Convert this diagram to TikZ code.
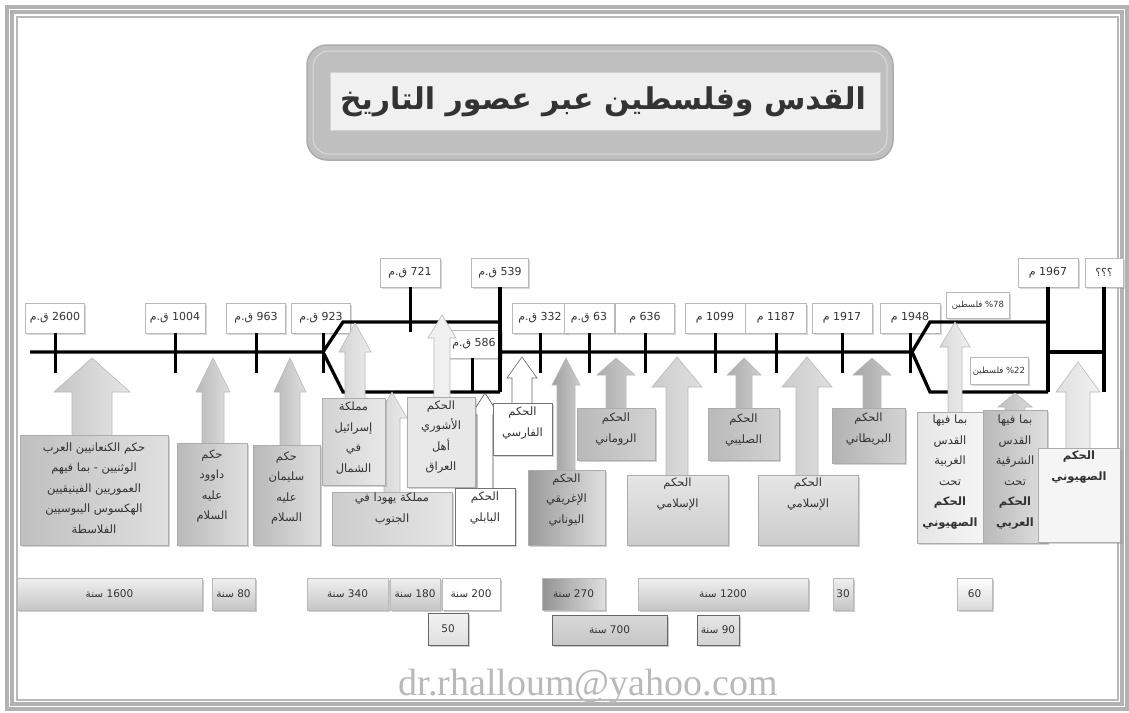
\documentclass[tikz,border=0pt]{standalone}
\usepackage{fontspec}
\setmainfont{DejaVu Sans}
\newfontfamily\arabicfont[Script=Arabic]{DejaVu Sans}
\newfontfamily\wmfont{Liberation Serif}
\TeXXeTstate=1
\usetikzlibrary{shadows}
\newcommand\AR[1]{{\arabicfont\beginR #1\endR}}
% date box: name, centre x, top y, width, bottom y, text
\newcommand\dbox[6]{\node[datebox,minimum width={#4},minimum height={#5-#3}] (#1) at (#2,{(#3+#5)/2}) {#6};}
% info box: name, x1, y1, x2, y2, style, text y, text
\newcommand\bx[8]{\node[ibox,#6,minimum width={#4-#2},minimum height={#5-#3}] (#1) at ({(#2+#4)/2},{(#3+#5)/2}) {};
  \node[itext] (#1t) at ({(#2+#4)/2},#7) {#8};}
% duration bar: name, x1, y1, x2, y2, style, text
\newcommand\durbar[7]{\node[dur,#6,minimum width={#4-#2},minimum height={#5-#3}] (#1) at ({(#2+#4)/2},{(#3+#5)/2}) {#7};}
% block arrow: apex x, apex y, head half width, head base y, shaft half width, bottom y, style
\newcommand\barrow[7]{\path[arr,#7] (#1,#2) -- ({#1+#3},#4) -- ({#1+#5},#4) -- ({#1+#5},#6) -- ({#1-#5},#6) -- ({#1-#5},#4) -- ({#1-#3},#4) -- cycle;}
\begin{document}
\begin{tikzpicture}[x=1pt,y=-1pt,
  datebox/.style={draw=gray!55,fill=white,line width=0.9pt,inner sep=0pt,font=\fontsize{11}{13}\selectfont,text=black!80,drop shadow={opacity=0.3,shadow xshift=1.5pt,shadow yshift=-1.5pt}},
  tl/.style={line width=3.3pt,black,line join=miter},
  tk/.style={line width=3pt,black},
  ibox/.style={draw=gray!65,line width=0.7pt,inner sep=0pt,drop shadow={opacity=0.35,shadow xshift=2pt,shadow yshift=-2pt}},
  itext/.style={align=center,font=\fontsize{11.5}{20.5}\selectfont,text=black!80,inner sep=0pt},
  dur/.style={draw=gray!55,line width=0.6pt,top color=gray!12,bottom color=gray!45,inner sep=0pt,font=\fontsize{10.5}{12}\selectfont,text=black!80,drop shadow={opacity=0.4,shadow xshift=1.5pt,shadow yshift=-1.5pt}},
  arr/.style={draw=gray!55,line width=0.6pt}]
\useasboundingbox (0,0) rectangle (1129,712);
\fill[white] (0,0) rectangle (1129,712);
% frame
\draw[gray!60,line width=9pt] (9,9) rectangle (1124,706);
\draw[white,line width=1pt] (9,9) rectangle (1124,706);
\draw[gray!55,line width=1.2pt] (17,17) rectangle (1118,700);
% title
\node[draw=gray!65,line width=1.5pt,fill=gray!50,rounded corners=20pt,minimum width=586,minimum height=115] (titlebox) at (600,102.5) {};
\node[draw=gray!30,line width=1pt,rounded corners=16pt,minimum width=574,minimum height=103] (titlerim) at (600,102.5) {};
\node[fill=gray!12,draw=gray!35,minimum width=550,minimum height=58] (titlein) at (605,101) {};
\node[font=\fontsize{30}{32}\selectfont\bfseries,text=black!80] (title) at (603,102) {\AR{القدس وفلسطين عبر عصور التاريخ}};
% date boxes
\dbox{d2600}{55}{303}{59}{333}{\AR{2600 ق.م}}
\dbox{d1004}{175}{303}{60}{333}{\AR{1004 ق.م}}
\dbox{d963}{256}{303}{59}{333}{\AR{963 ق.م}}
\dbox{d923}{321}{303}{59}{333}{\AR{923 ق.م}}
\dbox{d721}{410}{258}{60}{287}{\AR{721 ق.م}}
\dbox{d539}{500}{258}{57}{287}{\AR{539 ق.م}}
\dbox{d586}{474}{330}{54}{358}{\AR{586 ق.م}}
\dbox{d332}{540}{303}{55}{333}{\AR{332 ق.م}}
\dbox{d63}{589}{303}{50}{333}{\AR{63 ق.م}}
\dbox{d636}{645}{303}{59}{333}{\AR{636 م}}
\dbox{d1099}{715}{303}{60}{333}{\AR{1099 م}}
\dbox{d1187}{776}{303}{61}{333}{\AR{1187 م}}
\dbox{d1917}{842}{303}{60}{333}{\AR{1917 م}}
\dbox{d1948}{910}{303}{60}{333}{\AR{1948 م}}
\dbox{d1967}{1048}{258}{60}{287}{\AR{1967 م}}
\dbox{dq}{1104}{258}{38}{287}{\AR{؟؟؟}}
\node[datebox,font=\fontsize{8.5}{10}\selectfont,minimum width=63,minimum height=26] (p78) at (978,305) {\AR{\%78 فلسطين}};
\node[datebox,font=\fontsize{8.5}{10}\selectfont,minimum width=58,minimum height=27] (p22) at (999,371) {\AR{\%22 فلسطين}};
% timeline
\coordinate (L) at (30,352);
\coordinate (b1) at (323,352);
\coordinate (u1) at (343,322);
\coordinate (l1) at (343,392);
\coordinate (u2) at (500,322);
\coordinate (l2) at (500,392);
\coordinate (m2) at (500,352);
\coordinate (b2) at (912,352);
\coordinate (u3) at (930,322);
\coordinate (l3) at (930,392);
\coordinate (u4) at (1048,322);
\coordinate (l4) at (1048,392);
\coordinate (m4) at (1048,352);
\coordinate (m5) at (1104,352);
\coordinate (l5) at (1104,392);
\draw[tl] (L) -- (b1) -- (u1) -- (u2);
\draw[tl] (b1) -- (l1) -- (l2);
\draw[tl] (d539.south) -- (l2);
\draw[tl] (m2) -- (b2) -- (u3) -- (u4);
\draw[tl] (b2) -- (l3) -- (l4);
\draw[tl] (d1967.south) -- (l4);
\draw[tl] (m4) -- (m5);
\draw[tl] (dq.south) -- (l5);
\foreach \d in {d2600,d1004,d963,d332,d63,d636,d1099,d1187,d1917,d1948}
  \draw[tk] (\d.south) -- ++(0,40);
\draw[tk] ([xshift=2pt]d923.south) -- ++(0,40);
\draw[tk] (d721.south) -- ++(0,45);
\draw[tk] ([xshift=-2pt]d586.south) -- ++(0,34);
% arrows
\barrow{92}{358}{38}{392}{20}{436}{left color=gray!45,right color=gray!20}
\barrow{213}{358}{17}{392}{11}{444}{left color=gray!55,right color=gray!25}
\barrow{290}{358}{16}{392}{10}{446}{left color=gray!55,right color=gray!25}
\barrow{355}{323}{16}{352}{10}{399}{left color=gray!35,right color=gray!15}
\barrow{392}{392}{15}{418}{8}{493}{left color=gray!35,right color=gray!15}
\barrow{442}{315}{14}{338}{8}{398}{fill=gray!12}
\barrow{485}{393}{14}{415}{8}{489}{fill=white,draw=black!70}
\barrow{522}{357}{15}{378}{10}{404}{fill=white,draw=black!60}
\barrow{566}{358}{14}{385}{9}{471}{left color=gray!75,right color=gray!40}
\barrow{616}{358}{19}{375}{10}{409}{left color=gray!65,right color=gray!40}
\barrow{677}{357}{25}{387}{11}{476}{left color=gray!40,right color=gray!25}
\barrow{744}{358}{17}{375}{8}{409}{left color=gray!65,right color=gray!40}
\barrow{807}{357}{25}{387}{11}{476}{left color=gray!40,right color=gray!25}
\barrow{872}{358}{19}{375}{9}{409}{left color=gray!70,right color=gray!45}
\barrow{955}{322}{15}{347}{7}{413}{left color=gray!30,right color=gray!12}
\barrow{1015}{393}{17}{407}{10}{411}{left color=gray!50,right color=gray!30}
\barrow{1078}{362}{22}{392}{12}{449}{left color=gray!25,right color=gray!10}
% info boxes
\bx{kan}{20}{435}{168}{545}{left color=gray!50,right color=gray!25}{488}{\AR{حكم الكنعانيين العرب}\\\AR{الوثنيين - بما فيهم}\\\AR{العموريين الفينيقيين}\\\AR{الهكسوس اليبوسيين}\\\AR{الفلاسطة}}
\bx{dawud}{177}{443}{247}{545}{left color=gray!55,right color=gray!25}{486}{\AR{حكم}\\\AR{داوود}\\\AR{عليه}\\\AR{السلام}}
\bx{sulaiman}{253}{445}{320}{545}{left color=gray!55,right color=gray!25}{488}{\AR{حكم}\\\AR{سليمان}\\\AR{عليه}\\\AR{السلام}}
\bx{israel}{322}{398}{385}{485}{left color=gray!35,right color=gray!18}{438}{\AR{مملكة}\\\AR{إسرائيل}\\\AR{في}\\\AR{الشمال}}
\bx{yahuda}{332}{492}{452}{545}{left color=gray!40,right color=gray!20}{509}{\AR{مملكة يهودا في}\\\AR{الجنوب}}
\bx{ashur}{407}{397}{475}{487}{fill=gray!18}{437}{\AR{الحكم}\\\AR{الأشوري}\\\AR{أهل}\\\AR{العراق}}
\bx{babil}{455}{488}{515}{545}{fill=white,draw=black!55}{508}{\AR{الحكم}\\\AR{البابلي}}
\bx{fars}{493}{403}{552}{455}{fill=white,draw=black!55}{423}{\AR{الحكم}\\\AR{الفارسي}}
\bx{ighriq}{528}{470}{605}{545}{left color=gray!80,right color=gray!25}{500}{\AR{الحكم}\\\AR{الإغريقي}\\\AR{اليوناني}}
\bx{rum}{577}{408}{655}{460}{left color=gray!55,right color=gray!35}{429}{\AR{الحكم}\\\AR{الروماني}}
\bx{islam1}{627}{475}{728}{545}{top color=gray!20,bottom color=gray!40}{494}{\AR{الحكم}\\\AR{الإسلامي}}
\bx{salib}{708}{408}{779}{460}{left color=gray!55,right color=gray!35}{430}{\AR{الحكم}\\\AR{الصليبي}}
\bx{islam2}{758}{475}{858}{545}{top color=gray!20,bottom color=gray!40}{494}{\AR{الحكم}\\\AR{الإسلامي}}
\bx{brit}{832}{408}{905}{463}{left color=gray!60,right color=gray!35}{429}{\AR{الحكم}\\\AR{البريطاني}}
\bx{west}{917}{412}{983}{543}{left color=gray!20,right color=gray!8}{472}{\AR{بما فيها}\\\AR{القدس}\\\AR{الغربية}\\\AR{تحت}\\{\bfseries\AR{الحكم}}\\{\bfseries\AR{الصهيوني}}}
\bx{east}{983}{410}{1047}{543}{left color=gray!55,right color=gray!25}{472}{\AR{بما فيها}\\\AR{القدس}\\\AR{الشرقية}\\\AR{تحت}\\{\bfseries\AR{الحكم}}\\{\bfseries\AR{العربي}}}
\bx{zion}{1038}{448}{1120}{542}{fill=gray!8}{467}{{\bfseries\AR{الحكم}}\\{\bfseries\AR{الصهيوني}}}
% durations
\durbar{p1600}{17}{578}{202}{610}{}{\AR{1600 سنة}}
\durbar{p80}{212}{578}{255}{610}{}{\AR{80 سنة}}
\durbar{p340}{307}{578}{388}{610}{}{\AR{340 سنة}}
\durbar{p180}{390}{578}{440}{610}{}{\AR{180 سنة}}
\durbar{p200}{442}{578}{500}{610}{top color=white,bottom color=white}{\AR{200 سنة}}
\durbar{p50}{428}{613}{468}{645}{top color=gray!10,bottom color=gray!25,draw=black!60}{50}
\durbar{p270}{542}{578}{605}{610}{left color=gray!85,right color=gray!25}{\AR{270 سنة}}
\durbar{p700}{552}{615}{667}{645}{top color=gray!30,bottom color=gray!45,draw=black!60}{\AR{700 سنة}}
\durbar{p1200}{638}{578}{808}{610}{}{\AR{1200 سنة}}
\durbar{p90}{697}{615}{739}{645}{top color=gray!20,bottom color=gray!35,draw=black!60}{\AR{90 سنة}}
\durbar{p30}{833}{578}{853}{610}{}{30}
\durbar{p60}{957}{578}{992}{610}{top color=white,bottom color=gray!30}{60}
% watermark
\node[font=\wmfont\fontsize{38}{40}\selectfont,text=gray!55] (mail) at (588,686) {dr.rhalloum@yahoo.com};
\end{tikzpicture}
\end{document}
